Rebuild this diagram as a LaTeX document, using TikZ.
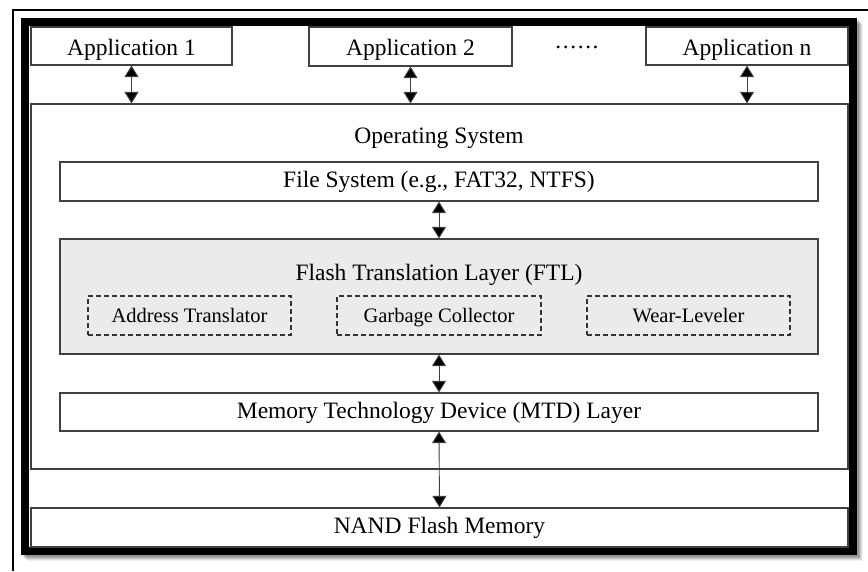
\documentclass[tikz,border=0pt]{standalone}
\usepackage{fontspec}
\setmainfont{Liberation Serif}
\usetikzlibrary{arrows.meta}
\tikzset{
  layer/.style={draw=black!75, line width=1.2pt, fill=white, inner sep=0pt, minimum width=#1, text height=16pt, text depth=4pt, font=\fontsize{23.5}{28}\selectfont},
  appbox/.style={text height=19pt, text depth=1pt},
  sublayer/.style={draw=black!80, line width=1.3pt, dash pattern=on 5pt off 3pt, inner sep=0pt, minimum width=203pt, minimum height=39pt, text height=14pt, text depth=1pt, font=\fontsize{20.5}{24}\selectfont},
  biarrow/.style={draw=black!75, line width=0.9pt, {Triangle[width=14pt,length=11.5pt,fill=black]}-{Triangle[width=14pt,length=11.5pt,fill=black]}},
  bigtext/.style={font=\fontsize{23.5}{28}\selectfont, inner sep=0pt}
}
\begin{document}
\begin{tikzpicture}[x=1pt,y=-1pt]
\useasboundingbox (0,0) rectangle (868,571);
% outer thin frame lines
\draw[line width=2pt] (13,571) -- (13,10) -- (868,10);
% shadow of thick frame
\foreach \k/\o in {6/0.06,5/0.08,4/0.1,3/0.12,2/0.14}{
  \draw[line width=8pt, black, opacity=\o] (25+\k,22+\k) rectangle (853+\k,551+\k);
}
% thick frame
\fill[white] (25,22) rectangle (853,551);
\draw[line width=8pt, black] (25,22) rectangle (853,551);

% operating system container
\node[layer=817pt, minimum height=365pt] (os) at (439.5,286.5) {};
\node[bigtext, anchor=base] (oslabel) at (439,143) {Operating System};

% applications
\node[layer=201pt, minimum height=38pt, appbox] (app1) at (131.5,46) {Application 1};
\node[layer=203pt, minimum height=39pt, appbox] (app2) at (410.5,46.5) {Application 2};
\node[layer=202pt, minimum height=38pt, appbox] (appn) at (747,46) {Application n};
\node[bigtext] (dots) at (577,47) {.\kern1.6pt.\kern1.6pt.\kern1.6pt.\kern1.6pt.\kern1.6pt.};

% layers
\node[layer=758pt, minimum height=39pt] (fs) at (439,181.5) {File System (e.g., FAT32, NTFS)};
\node[layer=758pt, minimum height=115pt, fill=black!8] (ftl) at (439,296.5) {};
\node[bigtext, anchor=base] (ftllabel) at (439,280) {Flash Translation Layer (FTL)};
\node[sublayer] (at) at (189.5,315.5) {Address Translator};
\node[sublayer, minimum width=204pt] (gc) at (439,315.5) {Garbage Collector};
\node[sublayer] (wl) at (688.5,315.5) {Wear-Leveler};
\node[layer=758pt, minimum height=38pt] (mtd) at (439,412) {Memory Technology Device (MTD) Layer};
\node[layer=817pt, minimum height=39pt] (nand) at (439.5,527.5) {NAND Flash Memory};

% connectors
\draw[biarrow] (app1.south) -- (app1.south |- os.north);
\draw[biarrow] (app2.south) -- (app2.south |- os.north);
\draw[biarrow] (appn.south) -- (appn.south |- os.north);
\draw[biarrow] (fs.south) -- (ftl.north);
\draw[biarrow] (ftl.south) -- (mtd.north);
\draw[biarrow] (mtd.south) -- (nand.north);
\end{tikzpicture}
\end{document}
